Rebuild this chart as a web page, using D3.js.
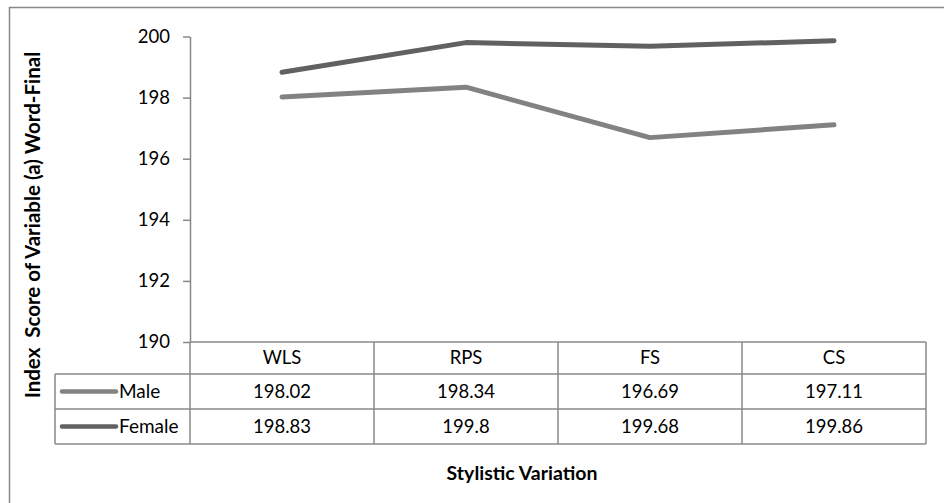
<!DOCTYPE html>
<html>
<head>
<meta charset="utf-8">
<script src="https://cdn.jsdelivr.net/npm/d3@7"></script>
<style>
  html, body { margin: 0; padding: 0; background: #fff; }
  svg { display: block; }
  text { font-family: Lato, "Open Sans", "Noto Sans", sans-serif; fill: #000; }
</style>
</head>
<body>
<svg id="chart" width="944" height="503"></svg>
<script>
// Stylistic variation categories and mean index scores per group
const categories = ["WLS", "RPS", "FS", "CS"];
const maleScores = [198.02, 198.34, 196.69, 197.11];
const femaleScores = [198.83, 199.8, 199.68, 199.86];
const yTicks = [190, 192, 194, 196, 198, 200];
const seriesNames = ["Male", "Female"];
const seriesColors = ["#828282", "#616161"];

const series = [
  { name: seriesNames[0], values: maleScores, color: seriesColors[0] },
  { name: seriesNames[1], values: femaleScores, color: seriesColors[1] }
];

const svg = d3.select("#chart");
const gridColor = "#888888";

// Plot area and data-table geometry
const plotLeft = 190, plotRight = 926, plotTop = 36.5, plotBottom = 342;
const tableLeft = 55;
const rowH = [32, 35, 35];   // header row, Male row, Female row

const x = d3.scaleBand().domain(categories).range([plotLeft, plotRight]);
const y = d3.scaleLinear().domain([190, 200]).range([plotBottom, plotTop]);

// Outer chart frame (runs off the right and bottom edges)
svg.append("rect")
  .attr("x", 9.5).attr("y", 7.5)
  .attr("width", 1000).attr("height", 600)
  .attr("fill", "none").attr("stroke", gridColor).attr("stroke-width", 1.5);

// Value axis
const yAxis = svg.append("g")
  .attr("transform", `translate(${plotLeft},0)`)
  .call(d3.axisLeft(y).tickValues(yTicks).tickSize(7).tickSizeOuter(0).tickPadding(13));
yAxis.select(".domain").attr("stroke", gridColor).attr("stroke-width", 1.5);
yAxis.selectAll(".tick line").attr("stroke", gridColor).attr("stroke-width", 1.5);
yAxis.selectAll(".tick text")
  .attr("font-size", 18.5)
  .attr("font-family", "Lato, 'Open Sans', sans-serif")
  .attr("fill", "#000");

// Data table grid
const rowY = [plotBottom];
rowH.forEach((h, i) => rowY.push(rowY[i] + h));
const tableBottom = rowY[rowY.length - 1];
const grid = svg.append("g")
  .attr("stroke", gridColor).attr("stroke-width", 1.5).attr("fill", "none");

// top line of the table (category axis) spans only the plot columns
grid.append("line")
  .attr("x1", plotLeft).attr("x2", plotRight)
  .attr("y1", rowY[0]).attr("y2", rowY[0]);
rowY.slice(1).forEach(ry => {
  grid.append("line")
    .attr("x1", tableLeft).attr("x2", plotRight)
    .attr("y1", ry).attr("y2", ry);
});
grid.append("line")
  .attr("x1", tableLeft).attr("x2", tableLeft)
  .attr("y1", rowY[1]).attr("y2", tableBottom);
const colEdges = categories.map(c => x(c)).concat([plotRight]);
colEdges.forEach(cx => {
  grid.append("line")
    .attr("x1", cx).attr("x2", cx)
    .attr("y1", rowY[0]).attr("y2", tableBottom);
});

// Category labels in the header row
svg.append("g").selectAll("text")
  .data(categories)
  .join("text")
  .attr("x", d => x(d) + x.bandwidth() / 2)
  .attr("y", (rowY[0] + rowY[1]) / 2)
  .attr("dy", "0.35em")
  .attr("text-anchor", "middle")
  .attr("font-size", 18.5)
  .text(d => d);

// Series rows: legend key, name, and values
series.forEach((s, i) => {
  const cy = (rowY[i + 1] + rowY[i + 2]) / 2;
  svg.append("line")
    .attr("x1", 62).attr("x2", 116)
    .attr("y1", cy).attr("y2", cy)
    .attr("stroke", s.color).attr("stroke-width", 4.5)
    .attr("stroke-linecap", "round");
  svg.append("text")
    .attr("x", 119).attr("y", cy).attr("dy", "0.35em")
    .attr("font-size", 19)
    .text(s.name);
  svg.append("g").selectAll("text")
    .data(s.values)
    .join("text")
    .attr("x", (d, j) => x(categories[j]) + x.bandwidth() / 2)
    .attr("y", cy).attr("dy", "0.35em")
    .attr("text-anchor", "middle")
    .attr("font-size", 18.5)
    .text(d => d);
});

// Series lines
const line = d3.line()
  .x((d, j) => x(categories[j]) + x.bandwidth() / 2)
  .y(d => y(d));
series.forEach(s => {
  svg.append("path")
    .datum(s.values)
    .attr("d", line)
    .attr("fill", "none")
    .attr("stroke", s.color)
    .attr("stroke-width", 5)
    .attr("stroke-linecap", "round")
    .attr("stroke-linejoin", "round");
});

// Axis titles
svg.append("text")
  .attr("transform", "translate(40,225) rotate(-90)")
  .attr("text-anchor", "middle")
  .attr("font-size", 20.5)
  .attr("font-weight", "bold")
  .style("white-space", "pre")
  .text("Index  Score of Variable (a) Word-Final");

svg.append("text")
  .attr("x", 522).attr("y", 480)
  .attr("text-anchor", "middle")
  .attr("font-size", 19.5)
  .attr("font-weight", "bold")
  .text("Stylistic Variation");
</script>
</body>
</html>
